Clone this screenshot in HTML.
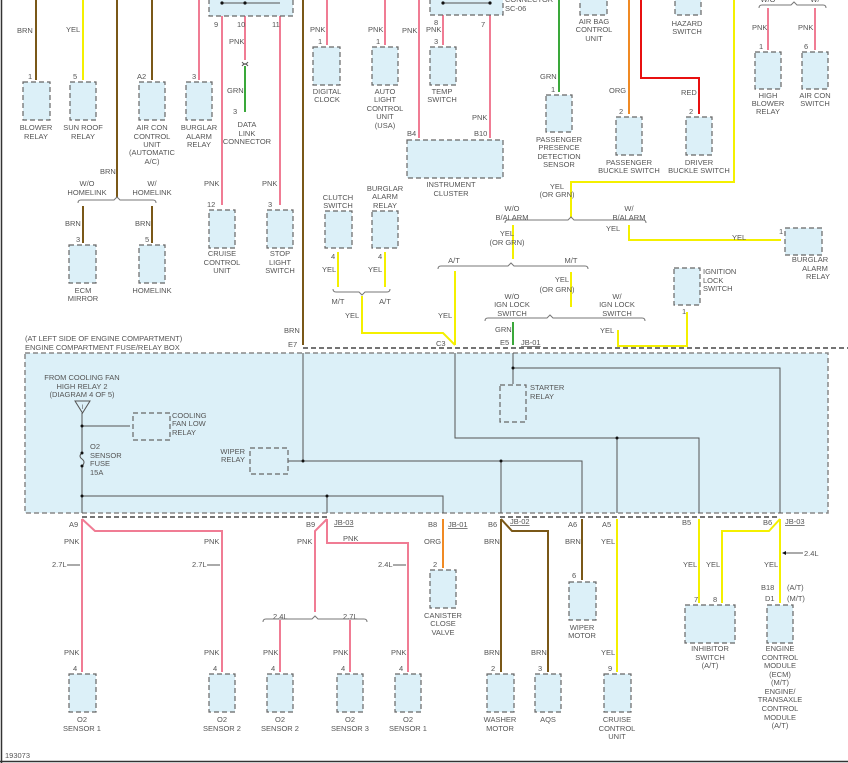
<!DOCTYPE html>
<html><head><meta charset="utf-8"><style>
html,body{margin:0;padding:0;background:#fff}
svg{display:block}
text{font-family:"Liberation Sans",sans-serif;font-size:7.5px;fill:#555}
.c{text-anchor:middle}.r{text-anchor:end}
.bx{fill:#dcf0f8;stroke:#666;stroke-width:1.2;stroke-dasharray:5 3}
.p{stroke:#f07c94;stroke-width:2;fill:none}
.y{stroke:#f4f000;stroke-width:2;fill:none}
.n{stroke:#7a5818;stroke-width:2;fill:none}
.g{stroke:#3aa83a;stroke-width:2;fill:none}
.o{stroke:#f08a24;stroke-width:2;fill:none}
.rd{stroke:#e81010;stroke-width:2;fill:none}
.k{stroke:#555;stroke-width:1;fill:none}
.bk{stroke:#222;stroke-width:1.2;fill:none;stroke-dasharray:5 3}
.br{stroke:#777;stroke-width:1;fill:none}
</style></head><body>
<svg width="848" height="763" viewBox="0 0 848 763" xmlns="http://www.w3.org/2000/svg">
<rect x="0" y="0" width="848" height="763" fill="#fff"/>
<line x1="1.5" y1="0" x2="1.5" y2="763" stroke="#333" stroke-width="1.5"/>
<line x1="0" y1="761.5" x2="848" y2="761.5" stroke="#333" stroke-width="1.5"/>

<rect class="bx" x="25" y="353" width="803" height="160" style="stroke:#888;stroke-width:1.5"/>
<text x="25" y="341">(AT LEFT SIDE OF ENGINE COMPARTMENT)</text>
<text x="25" y="350">ENGINE COMPARTMENT FUSE/RELAY BOX</text>
<path class="bk" d="M303 348H848"/>
<path class="bk" d="M82 517H327M500 517H780"/>

<path class="n" d="M36 0V80M152 0V80M117 0V198M83 206V243M152 206V243M303 0V345"/>
<path class="y" d="M83 0V80"/>
<path class="p" d="M199 0V80M222 16V205M245 16V60M280 16V205"/>
<path class="g" d="M245 66V112"/>
<path class="k" d="M242 62q3 4 6 0M242 66q3-4 6 0"/>
<path class="br" d="M78 203q0-3 3-3h33l3-3 3 3h33q3 0 3 3"/>

<rect class="bx" x="23" y="82" width="27" height="38"/><text x="28" y="79">1</text>
<text class="c" x="36" y="130">BLOWER</text><text class="c" x="36" y="139">RELAY</text>
<text x="17" y="33">BRN</text>
<rect class="bx" x="70" y="82" width="26" height="38"/><text x="73" y="79">5</text>
<text class="c" x="83" y="130">SUN ROOF</text><text class="c" x="83" y="139">RELAY</text>
<text x="66" y="32">YEL</text>
<rect class="bx" x="139" y="82" width="26" height="38"/><text x="137" y="79">A2</text>
<text class="c" x="152" y="130">AIR CON</text><text class="c" x="152" y="139">CONTROL</text><text class="c" x="152" y="147">UNIT</text><text class="c" x="152" y="155">(AUTOMATIC</text><text class="c" x="152" y="164">A/C)</text>
<rect class="bx" x="186" y="82" width="26" height="38"/><text x="192" y="79">3</text>
<text class="c" x="199" y="130">BURGLAR</text><text class="c" x="199" y="139">ALARM</text><text class="c" x="199" y="147">RELAY</text>
<text x="100" y="174">BRN</text>
<text class="c" x="87" y="186">W/O</text><text class="c" x="87" y="195">HOMELINK</text>
<text class="c" x="152" y="186">W/</text><text class="c" x="152" y="195">HOMELINK</text>
<text x="65" y="226">BRN</text><text x="135" y="226">BRN</text>
<rect class="bx" x="69" y="245" width="27" height="38"/><text x="76" y="242">3</text>
<text class="c" x="83" y="293">ECM</text><text class="c" x="83" y="301">MIRROR</text>
<rect class="bx" x="139" y="245" width="26" height="38"/><text x="145" y="242">5</text>
<text class="c" x="152" y="293">HOMELINK</text>

<rect class="bx" x="209" y="-4" width="84" height="20"/>
<path class="k" d="M222 3H280"/><circle cx="222" cy="3" r="1.6" fill="#111"/><circle cx="245" cy="3" r="1.6" fill="#111"/>
<text x="214" y="27">9</text><text x="237" y="27">10</text><text x="272" y="27">11</text>
<text x="229" y="44">PNK</text><text x="227" y="93">GRN</text>
<text x="233" y="114">3</text>
<text class="c" x="247" y="127">DATA</text><text class="c" x="247" y="136">LINK</text><text class="c" x="247" y="144">CONNECTOR</text>
<text x="204" y="186">PNK</text><text x="262" y="186">PNK</text>
<rect class="bx" x="209" y="210" width="26" height="38"/><text x="207" y="207">12</text>
<text class="c" x="222" y="256">CRUISE</text><text class="c" x="222" y="265">CONTROL</text><text class="c" x="222" y="273">UNIT</text>
<rect class="bx" x="267" y="210" width="26" height="38"/><text x="268" y="207">3</text>
<text class="c" x="280" y="256">STOP</text><text class="c" x="280" y="265">LIGHT</text><text class="c" x="280" y="273">SWITCH</text>

<path class="p" d="M327 0V45M385 0V45M419 0V138M443 15V45M490 15V138"/>
<text x="310" y="32">PNK</text><text x="368" y="32">PNK</text><text x="402" y="33">PNK</text>
<rect class="bx" x="313" y="47" width="27" height="38"/><text x="318" y="44">1</text>
<text class="c" x="327" y="94">DIGITAL</text><text class="c" x="327" y="102">CLOCK</text>
<rect class="bx" x="372" y="47" width="26" height="38"/><text x="376" y="44">1</text>
<text class="c" x="385" y="94">AUTO</text><text class="c" x="385" y="102">LIGHT</text><text class="c" x="385" y="111">CONTROL</text><text class="c" x="385" y="119">UNIT</text><text class="c" x="385" y="128">(USA)</text>
<rect class="bx" x="430" y="-4" width="73" height="19"/>
<path class="k" d="M443 3H490"/><circle cx="443" cy="3" r="1.6" fill="#111"/><circle cx="490" cy="3" r="1.6" fill="#111"/>
<text x="505" y="2">CONNECTOR</text><text x="505" y="11">SC-06</text>
<text x="434" y="25">8</text><text x="426" y="32">PNK</text><text x="481" y="27">7</text>
<rect class="bx" x="430" y="47" width="26" height="38"/><text x="434" y="44">3</text>
<text class="c" x="442" y="94">TEMP</text><text class="c" x="442" y="102">SWITCH</text>
<text x="472" y="120">PNK</text><text x="407" y="136">B4</text><text x="474" y="136">B10</text>
<rect class="bx" x="407" y="140" width="96" height="38"/>
<text class="c" x="451" y="187">INSTRUMENT</text><text class="c" x="451" y="196">CLUSTER</text>

<rect class="bx" x="580" y="-4" width="27" height="19"/>
<text class="c" x="594" y="24">AIR BAG</text><text class="c" x="594" y="32">CONTROL</text><text class="c" x="594" y="41">UNIT</text>
<path class="g" d="M559 0V92"/><text x="540" y="79">GRN</text>
<rect class="bx" x="546" y="95" width="26" height="37"/><text x="551" y="92">1</text>
<text class="c" x="559" y="142">PASSENGER</text><text class="c" x="559" y="150">PRESENCE</text><text class="c" x="559" y="159">DETECTION</text><text class="c" x="559" y="167">SENSOR</text>
<path class="o" d="M629 0V114"/><text x="609" y="93">ORG</text>
<rect class="bx" x="616" y="117" width="26" height="38"/><text x="619" y="114">2</text>
<text class="c" x="629" y="165">PASSENGER</text><text class="c" x="629" y="173">BUCKLE SWITCH</text>
<rect class="bx" x="675" y="-4" width="26" height="19"/>
<text class="c" x="687" y="26">HAZARD</text><text class="c" x="687" y="34">SWITCH</text>
<path class="rd" d="M641 0V78H699V114"/><text x="681" y="95">RED</text>
<rect class="bx" x="686" y="117" width="26" height="38"/><text x="689" y="114">2</text>
<text class="c" x="699" y="165">DRIVER</text><text class="c" x="699" y="173">BUCKLE SWITCH</text>
<path class="y" d="M734 0V182H571V218"/>
<text class="c" x="557" y="189">YEL</text><text class="c" x="557" y="197">(OR GRN)</text>
<path class="br" d="M505 223q0-3 3-3h60l3-3 3 3h69q3 0 3 3"/>
<text class="c" x="512" y="211">W/O</text><text class="c" x="512" y="220">B/ALARM</text>
<text class="c" x="629" y="211">W/</text><text class="c" x="629" y="220">B/ALARM</text>
<path class="y" d="M513 225V259M629 225V240H781"/>
<text class="c" x="507" y="236">YEL</text><text class="c" x="507" y="245">(OR GRN)</text>
<text x="606" y="231">YEL</text><text x="732" y="240">YEL</text>
<rect class="bx" x="785" y="228" width="37" height="27"/><text x="779" y="234">1</text>
<text class="c" x="810" y="262">BURGLAR</text><text class="c" x="815" y="271">ALARM</text><text class="c" x="818" y="279">RELAY</text>
<path class="br" d="M759 8q0-3 3-3h29l3-3 3 3h26q3 0 3 3"/>
<text class="c" x="768" y="2">W/O</text><text class="c" x="815" y="2">W/</text>
<path class="p" d="M768 8V50M815 8V50"/>
<text x="752" y="30">PNK</text><text x="798" y="30">PNK</text>
<rect class="bx" x="755" y="52" width="26" height="37"/><text x="759" y="49">1</text>
<text class="c" x="768" y="98">HIGH</text><text class="c" x="768" y="106">BLOWER</text><text class="c" x="768" y="114">RELAY</text>
<rect class="bx" x="802" y="52" width="26" height="37"/><text x="804" y="49">6</text>
<text class="c" x="815" y="98">AIR CON</text><text class="c" x="815" y="106">SWITCH</text>

<text class="c" x="338" y="200">CLUTCH</text><text class="c" x="338" y="208">SWITCH</text>
<rect class="bx" x="325" y="211" width="27" height="37"/><text x="331" y="259">4</text>
<text class="c" x="385" y="191">BURGLAR</text><text class="c" x="385" y="199">ALARM</text><text class="c" x="385" y="208">RELAY</text>
<rect class="bx" x="372" y="211" width="26" height="37"/><text x="378" y="259">4</text>
<path class="y" d="M338 252V287M385 252V287"/>
<text x="322" y="272">YEL</text><text x="368" y="272">YEL</text>
<path class="br" d="M333 289q0 3 3 3h23l3 3 3-3h22q3 0 3-3"/>
<text class="c" x="338" y="304">M/T</text><text class="c" x="385" y="304">A/T</text>
<path class="y" d="M362 296V333H443L455 345"/><text x="345" y="318">YEL</text>
<path class="br" d="M438 269q0-3 3-3h67l3-3 3 3h71q3 0 3 3"/>
<text class="c" x="454" y="263">A/T</text><text class="c" x="571" y="263">M/T</text>
<path class="y" d="M455 271V345M571 272V307"/>
<text x="438" y="318">YEL</text>
<text class="c" x="562" y="282">YEL</text><text class="c" x="557" y="292">(OR GRN)</text>
<path class="br" d="M485 321q0-3 3-3h59l3-3 3 3h89q3 0 3 3"/>
<text class="c" x="512" y="299">W/O</text><text class="c" x="512" y="307">IGN LOCK</text><text class="c" x="512" y="316">SWITCH</text>
<text class="c" x="617" y="299">W/</text><text class="c" x="617" y="307">IGN LOCK</text><text class="c" x="617" y="316">SWITCH</text>
<path class="g" d="M513 322V345"/><text x="495" y="332">GRN</text>
<path class="y" d="M618 330V346H687V312"/><text x="600" y="333">YEL</text>
<rect class="bx" x="674" y="268" width="26" height="37"/><text x="682" y="314">1</text>
<text x="703" y="274">IGNITION</text><text x="703" y="283">LOCK</text><text x="703" y="291">SWITCH</text>
<text x="284" y="333">BRN</text><text x="288" y="347">E7</text><text x="436" y="346">C3</text><text x="500" y="345">E5</text>
<text x="521" y="345" text-decoration="underline">JB-01</text>

<text class="c" x="82" y="380">FROM COOLING FAN</text><text class="c" x="82" y="389">HIGH RELAY 2</text><text class="c" x="82" y="397">(DIAGRAM 4 OF 5)</text>
<path d="M75 401H90L82.5 413Z" fill="none" stroke="#555"/><text class="c" x="82.5" y="409" style="font-size:6px">I</text>
<path class="k" d="M82 413V453M82 466V513M82 426H130M82 496H443V513M303 353V461M288 461H582V513M501 461V513M327 496V513M455 353V438H699V513M617 438V513M513 353V384M513 368H780V513"/>
<path class="k" d="M82 453q-4 3 0 6q4 3 0 7"/>
<g fill="#111"><circle cx="82" cy="426" r="1.5"/><circle cx="82" cy="453" r="1.5"/><circle cx="82" cy="466" r="1.5"/><circle cx="82" cy="496" r="1.5"/><circle cx="327" cy="496" r="1.5"/><circle cx="303" cy="461" r="1.5"/><circle cx="501" cy="461" r="1.5"/><circle cx="617" cy="438" r="1.5"/><circle cx="513" cy="368" r="1.5"/></g>
<rect class="bx" x="133" y="413" width="37" height="27"/>
<text x="172" y="418">COOLING</text><text x="172" y="426">FAN LOW</text><text x="172" y="435">RELAY</text>
<text x="90" y="449">O2</text><text x="90" y="458">SENSOR</text><text x="90" y="466">FUSE</text><text x="90" y="475">15A</text>
<rect class="bx" x="250" y="448" width="38" height="26"/>
<text class="r" x="245" y="454">WIPER</text><text class="r" x="245" y="462">RELAY</text>
<rect class="bx" x="500" y="385" width="26" height="37"/>
<text x="530" y="390">STARTER</text><text x="530" y="399">RELAY</text>

<path class="p" d="M82 519V672M82 519L95 531H222V672M327 519L315 531V612M327 519V543H408V672M280 620V672M350 620V672"/>
<path class="br" d="M263 622q0-3 3-3h46l3-3 3 3h46q3 0 3 3"/>
<text x="69" y="527">A9</text><text x="306" y="527">B9</text><text x="334" y="525" text-decoration="underline">JB-03</text>
<text x="64" y="544">PNK</text><text x="204" y="544">PNK</text><text x="297" y="544">PNK</text><text x="343" y="541">PNK</text>
<text x="52" y="567">2.7L</text><text x="192" y="567">2.7L</text><text x="378" y="567">2.4L</text>
<path class="k" d="M67 565H80M207 565H220M393 565H406"/>
<text x="273" y="619">2.4L</text><text x="343" y="619">2.7L</text>
<text x="64" y="655">PNK</text><text x="204" y="655">PNK</text><text x="263" y="655">PNK</text><text x="333" y="655">PNK</text><text x="391" y="655">PNK</text>
<rect class="bx" x="69" y="674" width="27" height="38"/><text x="73" y="671">4</text>
<text class="c" x="82" y="722">O2</text><text class="c" x="82" y="731">SENSOR 1</text>
<rect class="bx" x="209" y="674" width="26" height="38"/><text x="213" y="671">4</text>
<text class="c" x="222" y="722">O2</text><text class="c" x="222" y="731">SENSOR 2</text>
<rect class="bx" x="267" y="674" width="26" height="38"/><text x="271" y="671">4</text>
<text class="c" x="280" y="722">O2</text><text class="c" x="280" y="731">SENSOR 2</text>
<rect class="bx" x="337" y="674" width="26" height="38"/><text x="341" y="671">4</text>
<text class="c" x="350" y="722">O2</text><text class="c" x="350" y="731">SENSOR 3</text>
<rect class="bx" x="395" y="674" width="26" height="38"/><text x="399" y="671">4</text>
<text class="c" x="408" y="722">O2</text><text class="c" x="408" y="731">SENSOR 1</text>
<text x="5" y="758">193073</text>

<path class="o" d="M443 519V568"/>
<text x="428" y="527">B8</text><text x="448" y="527" text-decoration="underline">JB-01</text><text x="424" y="544">ORG</text>
<rect class="bx" x="430" y="570" width="26" height="38"/><text x="433" y="567">2</text>
<text class="c" x="443" y="618">CANISTER</text><text class="c" x="443" y="626">CLOSE</text><text class="c" x="443" y="635">VALVE</text>
<path class="n" d="M501 519V672M501 519L512 531H548V672M582 519V580"/>
<text x="488" y="527">B6</text><text x="510" y="524" text-decoration="underline">JB-02</text>
<text x="484" y="544">BRN</text><text x="484" y="655">BRN</text><text x="531" y="655">BRN</text><text x="565" y="544">BRN</text>
<rect class="bx" x="487" y="674" width="27" height="38"/><text x="491" y="671">2</text>
<text class="c" x="500" y="722">WASHER</text><text class="c" x="500" y="731">MOTOR</text>
<rect class="bx" x="535" y="674" width="26" height="38"/><text x="538" y="671">3</text>
<text class="c" x="548" y="722">AQS</text>
<text x="568" y="527">A6</text><text x="602" y="527">A5</text>
<rect class="bx" x="569" y="582" width="27" height="38"/><text x="572" y="578">6</text>
<text class="c" x="582" y="630">WIPER</text><text class="c" x="582" y="638">MOTOR</text>
<path class="y" d="M617 519V672M699 519V603M780 519V603M780 519L769 531H722V603"/>
<text x="601" y="544">YEL</text><text x="601" y="655">YEL</text>
<rect class="bx" x="604" y="674" width="27" height="38"/><text x="608" y="671">9</text>
<text class="c" x="617" y="722">CRUISE</text><text class="c" x="617" y="731">CONTROL</text><text class="c" x="617" y="739">UNIT</text>
<text x="682" y="525">B5</text><text x="763" y="525">B6</text><text x="785" y="524" text-decoration="underline">JB-03</text>
<text x="683" y="567">YEL</text><text x="706" y="567">YEL</text><text x="764" y="567">YEL</text>
<path class="k" d="M783 553H803"/><path d="M782 553l4-2v4z" fill="#111"/><text x="804" y="556">2.4L</text>
<text x="694" y="602">7</text><text x="713" y="602">8</text>
<rect class="bx" x="685" y="605" width="50" height="38"/>
<text class="c" x="710" y="651">INHIBITOR</text><text class="c" x="710" y="660">SWITCH</text><text class="c" x="710" y="668">(A/T)</text>
<text x="761" y="590">B18</text><text x="787" y="590">(A/T)</text>
<text x="765" y="601">D1</text><text x="787" y="601">(M/T)</text>
<rect class="bx" x="767" y="605" width="26" height="38"/>
<text class="c" x="780" y="651">ENGINE</text><text class="c" x="780" y="660">CONTROL</text><text class="c" x="780" y="668">MODULE</text><text class="c" x="780" y="677">(ECM)</text><text class="c" x="780" y="685">(M/T)</text><text class="c" x="780" y="694">ENGINE/</text><text class="c" x="780" y="702">TRANSAXLE</text><text class="c" x="780" y="711">CONTROL</text><text class="c" x="780" y="720">MODULE</text><text class="c" x="780" y="728">(A/T)</text>
</svg>
</body></html>
